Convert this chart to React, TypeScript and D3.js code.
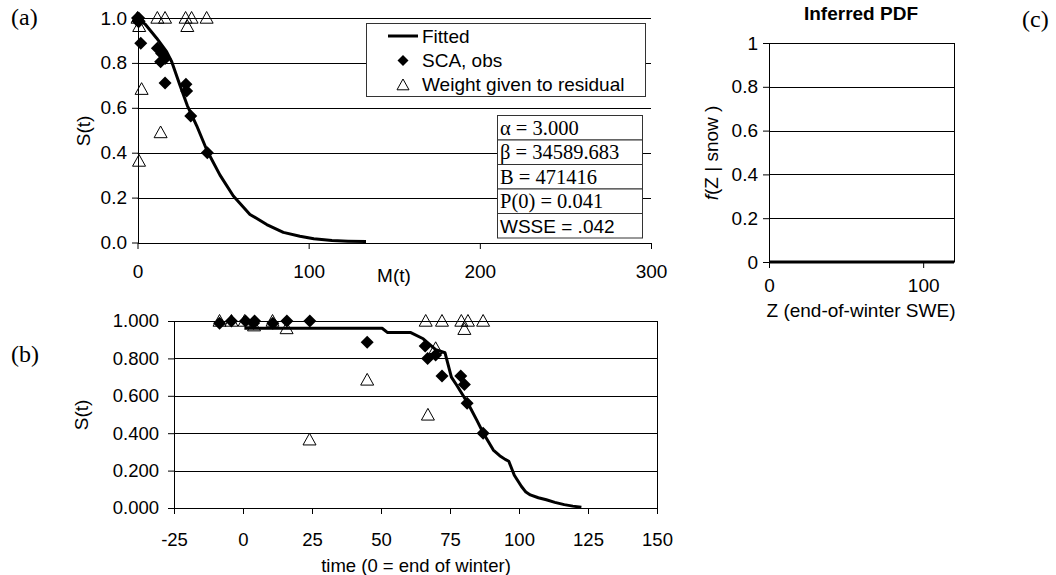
import * as d3 from 'd3';
import { useEffect, useRef } from 'react';

// ---- panel (a): S(t) against cumulative melt M(t)
const fitA_M = [0, 4.4, 11.2, 17, 20, 24.8, 29.1, 34.6, 40.6, 48.2, 56, 65.7, 75.5, 85.2, 94.9, 103, 113.6, 123, 133.5];
const fitA_S = [1.0, 0.973, 0.91, 0.85, 0.805, 0.70, 0.61, 0.52, 0.41, 0.30, 0.207, 0.125, 0.08, 0.045, 0.028, 0.017, 0.009, 0.006, 0.004];
const obsA_M = [0, 0.3, 0.7, 1.0, 1.9, 11.6, 14.1, 13.5, 16.1, 16.1, 28.3, 28.7, 31.1, 40.8];
const obsA_S = [1.0, 0.985, 1.0, 0.985, 0.887, 0.865, 0.842, 0.805, 0.82, 0.71, 0.705, 0.675, 0.564, 0.40];
const wtA_M = [0, 1.0, 11.6, 16.1, 28.1, 31.6, 29.1, 40.4, 2.4, 13.5, 0.9];
const wtA_W = [1.0, 0.963, 1.0, 1.0, 1.0, 1.0, 0.963, 1.0, 0.683, 0.49, 0.363];
const aXTicks = [0, 100, 200, 300];
const aYTicks = [0, 0.2, 0.4, 0.6, 0.8, 1.0];

const legendLabels = ['Fitted', 'SCA, obs', 'Weight given to residual'];
const paramLabels = ['α = 3.000', 'β = 34589.683', 'B = 471416', 'P(0) = 0.041', 'WSSE = .042'];

// ---- panel (b): S(t) against time
const fitB_T = [0.5, 50.4, 52.4, 60.8, 65.3, 69.8, 73.2, 75.5, 77.5, 79.8, 82.2, 84.7, 87.1, 90.7, 93, 95, 96.3, 98.3, 100.9, 102.5, 104.1, 107, 109.9, 113, 116.4, 119.5, 122.6];
const fitB_S = [0.961, 0.961, 0.938, 0.938, 0.905, 0.847, 0.83, 0.70, 0.655, 0.60, 0.54, 0.47, 0.40, 0.31, 0.28, 0.26, 0.25, 0.175, 0.115, 0.085, 0.07, 0.055, 0.044, 0.03, 0.018, 0.01, 0.004];
const obsB_T = [-8.5, -4.2, 0.9, 3.8, 4.2, 10.8, 15.9, 24.2, 45, 66, 66.9, 69.8, 72.1, 78.9, 80.2, 81.2, 87];
const obsB_S = [0.988, 1.0, 1.0, 0.988, 1.0, 0.988, 1.0, 1.0, 0.886, 0.866, 0.80, 0.818, 0.706, 0.706, 0.66, 0.56, 0.40];
const wtB_T = [-8.5, -4.2, 0.6, 4.0, 10.7, 15.8, 24.1, 45, 66.2, 67, 69.8, 72.1, 79.1, 80.2, 81.5, 87];
const wtB_W = [1.0, 1.0, 1.0, 0.975, 1.0, 0.96, 0.365, 0.685, 1.0, 0.498, 0.854, 1.0, 1.0, 0.956, 1.0, 1.0];
const bXTicks = [-25, 0, 25, 50, 75, 100, 125, 150];
const bYTicks = [0, 0.2, 0.4, 0.6, 0.8, 1.0];

// ---- panel (c): inferred PDF (flat at zero)
const pdfZ = [0, 120];
const pdfF = [0, 0];
const cXTicks = [0, 100];
const cYTicks = [0, 0.2, 0.4, 0.6, 0.8, 1];

const W = 1056, H = 575;
const SANS = '"Liberation Sans", Arial, sans-serif';
const SERIF = '"Liberation Serif", "Times New Roman", serif';
const FS = 19;

const diamond = (r: number) => `M0,${-r}L${r},0L0,${r}L${-r},0Z`;
const triangle = (r: number) => `M0,${-r}L${r},${r * 0.8}L${-r},${r * 0.8}Z`;

function App() {
    const svgRef = useRef<SVGSVGElement>(null);

    useEffect(() => {
        if (!svgRef.current) return;
        const svg = d3.select(svgRef.current);
        svg.selectAll('*').remove();
        svg.append('rect').attr('width', W).attr('height', H).attr('fill', 'white');

        const px = (v: number) => Math.round(v) + 0.5;

        // generic frame: gridlines, axes, ticks, labels
        function frame(x: any, y: any, xt: number[], yt: number[], yFmt: (d: number) => string,
                       xPad: number, yPad: number, border: boolean, fs: number) {
            const [x0, x1] = x.range();
            const [y0, y1] = y.range();
            const g = svg.append('g');
            g.selectAll('.grid').data(yt.filter(v => v > 0)).enter().append('line')
                .attr('x1', x0).attr('x2', x1)
                .attr('y1', d => px(y(d))).attr('y2', d => px(y(d)))
                .attr('stroke', '#000').attr('stroke-width', 1);
            if (border) {
                g.append('line').attr('x1', px(x1)).attr('x2', px(x1)).attr('y1', y1).attr('y2', y0)
                    .attr('stroke', '#000');
            }
            const ax = g.append('g').attr('transform', `translate(0,${Math.round(y0)})`)
                .call(d3.axisBottom(x).tickValues(xt).tickSize(6).tickSizeOuter(0).tickPadding(xPad).tickFormat(d => String(d)));
            const ay = g.append('g').attr('transform', `translate(${Math.round(x0)},0)`)
                .call(d3.axisLeft(y).tickValues(yt).tickSize(6).tickSizeOuter(0).tickPadding(yPad).tickFormat(yFmt));
            [ax, ay].forEach(a => {
                a.selectAll('text').attr('font-family', SANS).attr('font-size', fs).attr('fill', '#000');
                a.selectAll('line, path').attr('stroke', '#000');
            });
            return g;
        }

        function marks(x: any, y: any, lineX: number[], lineY: number[], ox: number[], oy: number[], wx: number[], wy: number[]) {
            const line = d3.line<number>().x((d, i) => x(lineX[i])).y(d => y(d));
            svg.append('path').datum(lineY).attr('d', line)
                .attr('fill', 'none').attr('stroke', '#000').attr('stroke-width', 3).attr('stroke-linejoin', 'round');
            svg.append('g').selectAll('path').data(wy).enter().append('path')
                .attr('d', triangle(6.5))
                .attr('transform', (d, i) => `translate(${x(wx[i])},${y(d)})`)
                .attr('fill', 'none').attr('stroke', '#000').attr('stroke-width', 1);
            svg.append('g').selectAll('path').data(oy).enter().append('path')
                .attr('d', diamond(6.5))
                .attr('transform', (d, i) => `translate(${x(ox[i])},${y(d)})`)
                .attr('fill', '#000');
        }

        // ================= (a)
        const xa = d3.scaleLinear().domain([0, 300]).range([137.5, 651]);
        const ya = d3.scaleLinear().domain([0, 1]).range([242.5, 18]);
        frame(xa, ya, aXTicks, aYTicks, d3.format('.1f'), 16, 5, false, FS);
        svg.append('text').attr('x', 394).attr('y', 282).attr('text-anchor', 'middle')
            .attr('font-family', SANS).attr('font-size', FS).text('M(t)');
        svg.append('text').attr('transform', 'translate(90,131) rotate(-90)').attr('text-anchor', 'middle')
            .attr('font-family', SANS).attr('font-size', FS).text('S(t)');
        svg.append('text').attr('x', 11).attr('y', 25)
            .attr('font-family', SERIF).attr('font-size', 24).text('(a)');
        marks(xa, ya, fitA_M, fitA_S, obsA_M, obsA_S, wtA_M, wtA_W);

        // legend
        const lg = svg.append('g');
        lg.append('rect').attr('x', 366.5).attr('y', 23.5).attr('width', 279).attr('height', 73)
            .attr('fill', 'white').attr('stroke', '#333');
        lg.append('line').attr('x1', 388).attr('x2', 418).attr('y1', 36).attr('y2', 36)
            .attr('stroke', '#000').attr('stroke-width', 3);
        lg.append('path').attr('d', diamond(5.5)).attr('transform', 'translate(403,60.5)').attr('fill', '#000');
        lg.append('path').attr('d', triangle(6)).attr('transform', 'translate(403,85)')
            .attr('fill', 'none').attr('stroke', '#000');
        lg.selectAll('text').data(legendLabels).enter().append('text')
            .attr('x', 422).attr('y', (d, i) => 42.5 + i * 24)
            .attr('font-family', SANS).attr('font-size', FS).text(d => d);

        // parameter table
        const pg = svg.append('g');
        const rowH = 24.5;
        paramLabels.forEach((t, i) => {
            pg.append('rect').attr('x', 497.5).attr('y', 115.5 + i * rowH).attr('width', 145).attr('height', rowH)
                .attr('fill', 'white').attr('stroke', '#333');
            pg.append('text').attr('x', 500).attr('y', 115.5 + (i + 1) * rowH - 5.5)
                .attr('font-family', i === 4 ? SANS : SERIF).attr('font-size', i === 4 ? FS : 20.5).text(t);
        });

        // ================= (b)
        const xb = d3.scaleLinear().domain([-25, 150]).range([174, 657]);
        const yb = d3.scaleLinear().domain([0, 1]).range([508, 321]);
        frame(xb, yb, bXTicks, bYTicks, d3.format('.3f'), 19, 9, true, 18.5);
        svg.append('text').attr('x', 416).attr('y', 572).attr('text-anchor', 'middle')
            .attr('font-family', SANS).attr('font-size', 18.5).text('time (0 = end of winter)');
        svg.append('text').attr('transform', 'translate(88,415) rotate(-90)').attr('text-anchor', 'middle')
            .attr('font-family', SANS).attr('font-size', FS).text('S(t)');
        svg.append('text').attr('x', 11).attr('y', 362)
            .attr('font-family', SERIF).attr('font-size', 24).text('(b)');
        marks(xb, yb, fitB_T, fitB_S, obsB_T, obsB_S, wtB_T, wtB_W);

        // ================= (c)
        const xc = d3.scaleLinear().domain([0, 120]).range([769, 954]);
        const yc = d3.scaleLinear().domain([0, 1]).range([262, 43]);
        frame(xc, yc, cXTicks, cYTicks, d => String(d), 11, 5, true, FS);
        svg.append('path').datum(pdfF)
            .attr('d', d3.line<number>().x((d, i) => xc(pdfZ[i])).y(d => yc(d)))
            .attr('stroke', '#000').attr('stroke-width', 3).attr('fill', 'none');
        svg.append('text').attr('x', 861).attr('y', 20).attr('text-anchor', 'middle')
            .attr('font-family', SANS).attr('font-size', 19).attr('font-weight', 'bold').text('Inferred PDF');
        svg.append('text').attr('x', 861).attr('y', 317).attr('text-anchor', 'middle')
            .attr('font-family', SANS).attr('font-size', FS).text('Z (end-of-winter SWE)');
        const fl = svg.append('text').attr('transform', 'translate(718,153) rotate(-90)').attr('text-anchor', 'middle')
            .attr('font-family', SANS).attr('font-size', FS);
        fl.append('tspan').attr('font-style', 'italic').text('f');
        fl.append('tspan').text('(Z | snow )');
        svg.append('text').attr('x', 1022).attr('y', 27)
            .attr('font-family', SERIF).attr('font-size', 24).text('(c)');

        return () => { d3.select(svgRef.current).selectAll('*').remove(); };
    }, []);

    return <svg ref={svgRef} width={W} height={H} style={{ position: 'absolute', left: 0, top: 0 }}></svg>;
}

export default App;
